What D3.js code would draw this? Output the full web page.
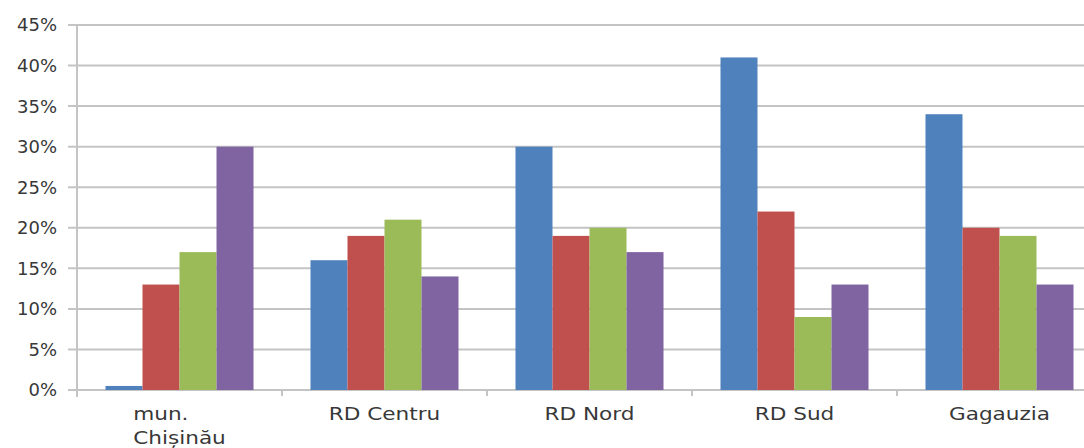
<!DOCTYPE html>
<html>
<head>
<meta charset="utf-8">
<script src="https://cdn.jsdelivr.net/npm/d3@7"></script>
<style>
  html, body { margin: 0; padding: 0; background: #fff; overflow: hidden; }
  svg { display: block; }
  text { font-family: "DejaVu Sans", "Open Sans", sans-serif; fill: #383838; }
</style>
</head>
<body>
<svg id="chart" width="1084" height="448"></svg>
<script>
// Regions shown along the horizontal axis (label lines split by "\n")
const categories = ["mun.\nChișinău", "RD Centru", "RD Nord", "RD Sud", "Gagauzia"];

// Four series, values in percent, one value per region
const seriesNames = ["Serie 1", "Serie 2", "Serie 3", "Serie 4"];
const serie1 = [0.5, 16, 30, 41, 34];
const serie2 = [13, 19, 19, 22, 20];
const serie3 = [17, 21, 20, 9, 19];
const serie4 = [30, 14, 17, 13, 13];
const seriesColors = ["#4F81BD", "#C0504D", "#9BBB59", "#8064A2"];

// Value axis ticks
const yTicks = [0, 5, 10, 15, 20, 25, 30, 35, 40, 45];

const allSeries = [serie1, serie2, serie3, serie4];

const svg = d3.select("#chart");
const plotLeft = 77, plotRight = 1102, plotTop = 25, plotBottom = 390;

const x = d3.scaleBand()
  .domain(categories)
  .range([plotLeft, plotRight])
  .paddingInner(0.278)
  .paddingOuter(0.139);

const xs = d3.scaleBand()
  .domain(seriesNames)
  .range([0, x.bandwidth()])
  .padding(0);

const y = d3.scaleLinear().domain([0, 45]).range([plotBottom, plotTop]);

// Horizontal gridlines
svg.append("g")
  .selectAll("line")
  .data(yTicks)
  .join("line")
  .attr("x1", plotLeft - 9)
  .attr("x2", plotRight)
  .attr("y1", d => y(d))
  .attr("y2", d => y(d))
  .attr("stroke", "#c4c4c4")
  .attr("stroke-width", 2);

// Vertical value axis line
svg.append("line")
  .attr("x1", plotLeft).attr("x2", plotLeft)
  .attr("y1", y(45)).attr("y2", plotBottom + 7)
  .attr("stroke", "#c4c4c4")
  .attr("stroke-width", 2);

// Value axis labels
svg.append("g")
  .selectAll("text")
  .data(yTicks)
  .join("text")
  .attr("x", 57)
  .attr("y", d => y(d))
  .attr("dy", "0.36em")
  .attr("text-anchor", "end")
  .attr("font-size", 18)
  .text(d => d + "%");

// Bars
const groups = svg.append("g")
  .selectAll("g")
  .data(categories)
  .join("g")
  .attr("transform", c => `translate(${x(c)},0)`);

groups.selectAll("rect")
  .data((c, i) => allSeries.map((s, k) => ({ name: seriesNames[k], value: s[i], color: seriesColors[k] })))
  .join("rect")
  .attr("x", d => xs(d.name))
  .attr("width", xs.bandwidth())
  .attr("y", d => y(d.value))
  .attr("height", d => plotBottom - y(d.value))
  .attr("fill", d => d.color);

// Category boundary tick marks
const boundaries = categories.map(c => x(c) - x.step() * x.paddingInner() / 2);
boundaries.push(plotRight);
svg.append("g")
  .selectAll("line")
  .data(boundaries)
  .join("line")
  .attr("x1", d => d).attr("x2", d => d)
  .attr("y1", plotBottom).attr("y2", plotBottom + 6)
  .attr("stroke", "#c4c4c4")
  .attr("stroke-width", 2);

// Category labels: multi-line labels form a left-aligned block centred on the group
const labels = svg.append("g")
  .selectAll("text")
  .data(categories)
  .join("text")
  .attr("font-size", 18)
  .attr("text-anchor", "start")
  .attr("transform", c => `translate(${x(c) + x.bandwidth() / 2},420) scale(1.2,1)`);

labels.selectAll("tspan")
  .data(c => c.split("\n"))
  .join("tspan")
  .attr("x", 0)
  .attr("dy", (d, i) => i === 0 ? 0 : 24)
  .text(d => d);

labels.each(function () {
  const widths = [];
  d3.select(this).selectAll("tspan").each(function () { widths.push(this.getComputedTextLength()); });
  const maxW = d3.max(widths);
  d3.select(this).selectAll("tspan").attr("x", -maxW / 2);
});
</script>
</body>
</html>
